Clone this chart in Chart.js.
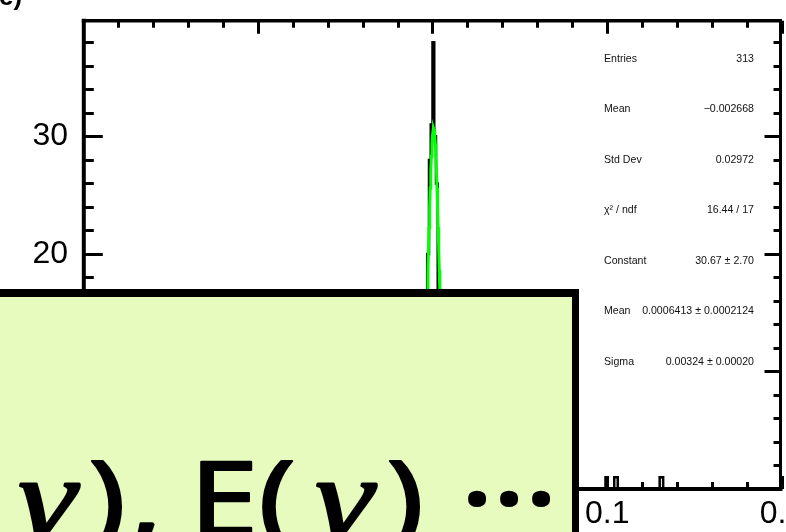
<!DOCTYPE html>
<html>
<head>
<meta charset="utf-8">
<script src="https://cdn.jsdelivr.net/npm/chart.js@4.4.1/dist/chart.umd.min.js"></script>
<style>
  html, body { margin: 0; padding: 0; background: #ffffff; overflow: hidden; }
  #wrap { position: relative; width: 786px; height: 532px; }
</style>
</head>
<body>
<div id="wrap"><canvas id="c" width="786" height="532"></canvas></div>
<script>
// ---- histogram definition: 400 bins of width 0.001 on [-0.2, 0.2] ----
const xRange = [-0.2, 0.2];
const binWidth = 0.001;

// non-empty bins: low edge of each bin and its content
const binLow = [
  -0.193, -0.152, -0.135, -0.121, -0.108, -0.098, -0.087, -0.081, -0.074, -0.066,
  -0.062, -0.058, -0.051, -0.047, -0.045, -0.042, -0.039, -0.034, -0.031, -0.029,
  -0.027, -0.025, -0.023, -0.021, -0.018, -0.016, -0.015, -0.013, -0.012, -0.011,
  -0.010, -0.009, -0.008, -0.007, -0.006, -0.005, -0.004, -0.003, -0.002, -0.001,
   0.000,  0.001,  0.002,  0.003,  0.004,  0.005,  0.006,  0.007,  0.008,  0.009,
   0.010,  0.011,  0.013,  0.014,  0.016,  0.019,  0.021,  0.024,  0.027,  0.031,
   0.043,  0.058,  0.071,  0.099,  0.104,  0.105,  0.130,  0.131
];
const binCount = [
   1,  1,  1,  1,  1,  1,  1,  1,  2,  1,
   1,  1,  2,  1,  1,  1,  2,  1,  1,  2,
   1,  1,  1,  2,  1,  1,  2,  1,  1,  2,
   1,  1,  1,  3,  5,  9, 14, 20, 28, 31,
  38, 30, 26, 15, 12, 10,  6,  3,  2,  1,
   1,  1,  2,  1,  1,  1,  1,  2,  1,  1,
   1,  1,  1,  1,  1,  1,  1,  1
];

// axis ticks and their labels
const xMajorTicks = [-0.2, -0.1, 0, 0.1, 0.2];
const xTickLabels = ['\u22120.2', '\u22120.1', '0', '0.1', '0.2'];
const xMinorStep = 0.02;
const yRange = [0, 39.9];
const yMajorTicks = [0, 10, 20, 30];
const yTickLabels = ['0', '10', '20', '30'];
const yMinorStep = 2;

// statistics and gaussian fit results
const statEntries = 313;
const statMean = -0.002668;
const statStdDev = 0.02972;
const fitChi2 = 16.44;
const fitNdf = 17;
const fitConstant = [30.67, 2.70];
const fitMean = [0.0006413, 0.0002124];
const fitSigma = [0.00324, 0.00020];

// caption of the panel below the frame
const panelTag = 'e)';
const boxCaption = '\u03b3), E(\u03b3) \u00b7\u00b7\u00b7';

// ---- build drawable series ----
const nBins = Math.round((xRange[1] - xRange[0]) / binWidth);
const content = new Array(nBins).fill(0);
binLow.forEach((lo, i) => {
  content[Math.round((lo - xRange[0]) / binWidth)] += binCount[i];
});
const histPoints = content.map((c, i) => ({ x: xRange[0] + i * binWidth, y: c }));
histPoints.push({ x: xRange[1], y: content[nBins - 1] });

// fitted gaussian drawn from the fit parameters
const fitPoints = [];
const fitLo = fitMean[0] - 5 * fitSigma[0], fitHi = fitMean[0] + 5 * fitSigma[0];
for (let i = 0; i <= 100; i++) {
  const x = fitLo + (fitHi - fitLo) * i / 100;
  const z = (x - fitMean[0]) / fitSigma[0];
  fitPoints.push({ x: x, y: fitConstant[0] * Math.exp(-0.5 * z * z) });
}

const statRows = [
  ['Entries', String(statEntries)],
  ['Mean', (statMean < 0 ? '\u2212' : '') + Math.abs(statMean).toFixed(6)],
  ['Std Dev', statStdDev.toFixed(5)],
  ['\u03c7\u00b2 / ndf', fitChi2.toFixed(2) + ' / ' + fitNdf],
  ['Constant', fitConstant[0].toFixed(2) + ' \u00b1 ' + fitConstant[1].toFixed(2)],
  ['Mean', fitMean[0].toFixed(7) + ' \u00b1 ' + fitMean[1].toFixed(7)],
  ['Sigma', fitSigma[0].toFixed(5) + ' \u00b1 ' + fitSigma[1].toFixed(5)]
];

const labelFont = { family: '"Liberation Sans", Arial, Helvetica, sans-serif', size: 32 };

// ---- frame with inward ticks on all four sides ----
const framePlugin = {
  id: 'frame',
  afterDatasetsDraw(chart) {
    const ctx = chart.ctx, ca = chart.chartArea;
    const xs = chart.scales.x, ys = chart.scales.y;
    const L = ca.left + 0.8, R = ca.right - 1.5, T = ca.top + 0.8, B = ca.bottom;
    ctx.save();
    ctx.strokeStyle = '#000';
    ctx.lineCap = 'butt';
    ctx.lineWidth = 3;
    const eps = 1e-9;
    // x ticks (bottom and top)
    for (let v = xRange[0]; v <= xRange[1] + eps; v += xMinorStep) {
      const major = xMajorTicks.some(m => Math.abs(m - v) < eps);
      const len = major ? 13 : 7;
      const px = Math.round(xs.getPixelForValue(v)) + 0.5;
      ctx.beginPath();
      ctx.moveTo(px, B); ctx.lineTo(px, B - len);
      ctx.moveTo(px, T); ctx.lineTo(px, T + len);
      ctx.stroke();
    }
    // y ticks (left and right)
    for (let v = yRange[0]; v <= yRange[1] + eps; v += yMinorStep) {
      const major = yMajorTicks.some(m => Math.abs(m - v) < eps);
      const py = Math.round(ys.getPixelForValue(v)) + 0.5;
      ctx.beginPath();
      ctx.moveTo(L, py); ctx.lineTo(L + (major ? 19 : 10), py);
      ctx.moveTo(R, py); ctx.lineTo(R - (major ? 16 : 7), py);
      ctx.stroke();
    }
    // frame
    ctx.lineWidth = 4;
    ctx.beginPath(); ctx.moveTo(L, T - 2); ctx.lineTo(L, B + 2); ctx.stroke();
    ctx.beginPath(); ctx.moveTo(L - 2, B); ctx.lineTo(R + 2, B); ctx.stroke();
    ctx.lineWidth = 3.6;
    ctx.beginPath(); ctx.moveTo(L - 2, T); ctx.lineTo(R + 1.5, T); ctx.stroke();
    ctx.lineWidth = 3;
    ctx.beginPath(); ctx.moveTo(R, T); ctx.lineTo(R, B + 2); ctx.stroke();
    ctx.restore();
  }
};

// ---- statistics panel ----
const statsPlugin = {
  id: 'stats',
  afterDatasetsDraw(chart) {
    const ctx = chart.ctx;
    ctx.save();
    ctx.fillStyle = '#111';
    ctx.font = '10.6px "Liberation Sans", Arial, sans-serif';
    ctx.textBaseline = 'middle';
    statRows.forEach((row, i) => {
      const y = 59 + i * 50.5;
      ctx.textAlign = 'left';
      ctx.fillText(row[0], 604, y);
      ctx.textAlign = 'right';
      ctx.fillText(row[1], 754, y);
    });
    ctx.restore();
  }
};

// ---- caption box and panel tag drawn over the chart ----
// horizontal centre of each printed glyph of the caption (spaces skipped)
const captionGlyphX = [47, 107, 146, 224, 277, 344, 405, 477, 509, 541];
const overlayPlugin = {
  id: 'overlay',
  afterDraw(chart) {
    const ctx = chart.ctx;
    ctx.save();
    // panel tag at the top-left corner
    ctx.fillStyle = '#000';
    ctx.font = 'bold 26px "Liberation Sans", Arial, sans-serif';
    ctx.textAlign = 'left';
    ctx.textBaseline = 'alphabetic';
    ctx.fillText(panelTag, -1, 5);

    // caption box
    const boxR = 575.5, boxT = 293;
    ctx.fillStyle = '#e6fbbd';
    ctx.fillRect(-10, boxT, boxR + 10, 300);
    ctx.strokeStyle = '#000';
    ctx.lineWidth = 8;
    ctx.beginPath(); ctx.moveTo(-10, boxT); ctx.lineTo(boxR + 3.5, boxT); ctx.stroke();
    ctx.lineWidth = 7;
    ctx.beginPath(); ctx.moveTo(boxR, boxT); ctx.lineTo(boxR, 560); ctx.stroke();

    // caption text: upright sans, gamma as an italic math symbol
    const size = 104, baseline = 536;
    ctx.fillStyle = '#000';
    ctx.strokeStyle = '#000';
    ctx.lineWidth = 2.2;
    ctx.lineJoin = 'round';
    ctx.textAlign = 'center';
    let k = 0;
    for (const ch of boxCaption) {
      if (!ch.trim()) continue;
      const isGamma = ch === '\u03b3';
      ctx.save();
      ctx.translate(captionGlyphX[k++], baseline);
      ctx.scale(isGamma ? 1.3 : 1.19, 1);
      ctx.font = isGamma
        ? 'italic ' + Math.round(size * 1.1) + 'px "Liberation Serif", serif'
        : size + 'px "Noto Sans", sans-serif';
      ctx.fillText(ch, 0, 0);
      ctx.strokeText(ch, 0, 0);
      ctx.restore();
    }
    ctx.restore();
  }
};

const ctx = document.getElementById('c').getContext('2d');
new Chart(ctx, {
  type: 'line',
  data: {
    datasets: [
      {
        label: 'gaus',
        data: fitPoints,
        borderColor: '#00ff00',
        borderWidth: 3,
        pointRadius: 0,
        tension: 0,
        fill: false,
        order: 0
      },
      {
        label: 'residuals',
        data: histPoints,
        borderColor: '#000000',
        borderWidth: 2.5,
        pointRadius: 0,
        stepped: 'before',
        fill: false,
        order: 1
      }
    ]
  },
  options: {
    responsive: false,
    animation: false,
    devicePixelRatio: 1,
    events: [],
    layout: { padding: { top: 20, right: 4, left: 0, bottom: 0 } },
    plugins: { legend: { display: false }, tooltip: { enabled: false } },
    scales: {
      x: {
        type: 'linear',
        min: xRange[0],
        max: xRange[1],
        grid: { display: false, drawTicks: false },
        border: { display: false },
        afterBuildTicks: s => { s.ticks = xMajorTicks.map(v => ({ value: v })); },
        ticks: {
          font: labelFont,
          color: '#000',
          padding: 6,
          maxRotation: 0,
          autoSkip: false,
          callback: (v, i) => xTickLabels[i]
        },
        afterFit: s => { s.height = 43; s.paddingLeft = 0; s.paddingRight = 0; }
      },
      y: {
        type: 'linear',
        min: yRange[0],
        max: yRange[1],
        grid: { display: false, drawTicks: false },
        border: { display: false },
        afterBuildTicks: s => { s.ticks = yMajorTicks.map(v => ({ value: v })); },
        ticks: {
          font: labelFont,
          color: '#000',
          padding: 15,
          autoSkip: false,
          callback: (v, i) => yTickLabels[i]
        },
        afterFit: s => { s.width = 83; s.paddingTop = 0; s.paddingBottom = 0; }
      }
    }
  },
  plugins: [framePlugin, statsPlugin, overlayPlugin]
});
</script>
</body>
</html>
